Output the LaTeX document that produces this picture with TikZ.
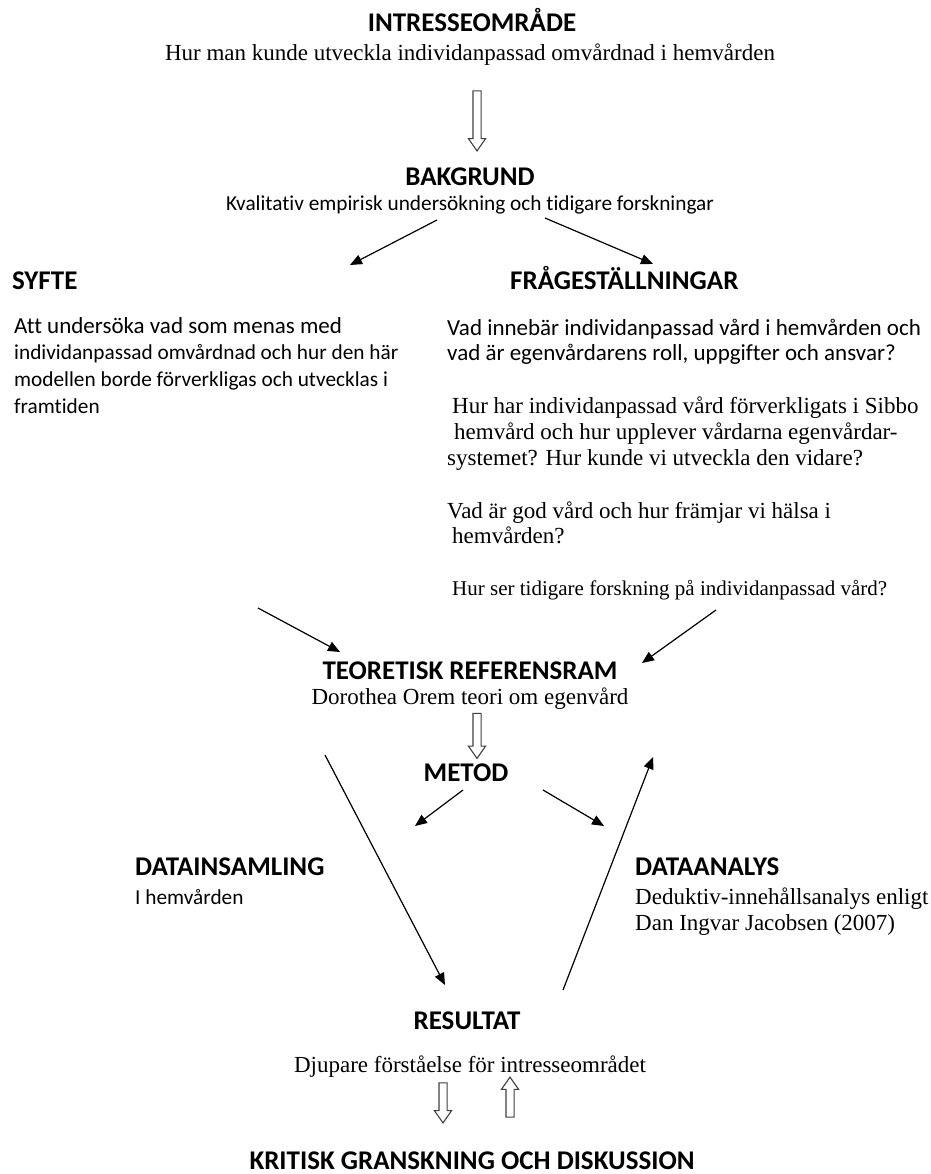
\documentclass[tikz,border=0pt]{standalone}
\usepackage{fontspec}
\setmainfont{Liberation Serif}
\newfontfamily\calfont[Ligatures={NoCommon,NoContextual},RawFeature={-dlig;-clig}]{Carlito}
\usetikzlibrary{shapes.arrows,arrows.meta}
\tikzset{
  head/.style={font=\calfont\bfseries\fontsize{27}{30}\selectfont, inner sep=0pt},
  sansl/.style={font=\calfont\fontsize{23}{27}\selectfont, inner sep=0pt},
  sans/.style={font=\calfont\fontsize{21.3}{27}\selectfont, inner sep=0pt},
  serif/.style={font=\fontsize{23}{27}\selectfont, inner sep=0pt},
  serifsm/.style={font=\fontsize{21}{27}\selectfont, inner sep=0pt},
  hollow/.style={single arrow, draw=black!75, line width=1.1pt, fill=white,
    inner xsep=0pt, inner ysep=3.5pt, minimum width=17pt,
    single arrow head extend=4.5pt, single arrow head indent=0pt,
    single arrow tip angle=70},
  conn/.style={-{Triangle[length=12pt,width=10pt]}, line width=1.2pt, black}
}
\begin{document}
\begin{tikzpicture}[x=1pt,y=-1pt]
\useasboundingbox (0,0) rectangle (930,1174);
% top
\node[head, anchor=base] (intr) at (472,32) {INTRESSEOMRÅDE};
\node[serif, anchor=base] (intrsub) at (470,61) {Hur man kunde utveckla individanpassad omvårdnad i hemvården};
\node[hollow, rotate=-90, minimum height=60pt] (h1) at (477,118) {};
\node[head, anchor=base] (bak) at (470,186) {BAKGRUND};
\node[sans, anchor=base] (baksub) at (470,211) {Kvalitativ empirisk undersökning och tidigare forskningar};
\coordinate (b1s) at (437,220);
\coordinate (b1e) at (350,265);
\coordinate (b2s) at (545,218);
\coordinate (b2e) at (653,264);
\draw[conn] (b1s) -- (b1e);
\draw[conn] (b2s) -- (b2e);
\node[head, anchor=base west] (syfte) at (12,289) {SYFTE};
\node[head, anchor=base west] (frag) at (510,289) {FRÅGESTÄLLNINGAR};
% syfte text
\node[sansl, anchor=base west] (s1) at (14,333) {Att undersöka vad som menas med};
\node[sans, anchor=base west] (s2) at (14,359) {individanpassad omvårdnad och hur den här};
\node[sans, anchor=base west] (s3) at (14,386) {modellen borde förverkligas och utvecklas i};
\node[sans, anchor=base west] (s4) at (14,413) {framtiden};
% fragestallningar
\node[sansl, anchor=base west] (f1) at (447,335) {Vad innebär individanpassad vård i hemvården och};
\node[sansl, anchor=base west] (f2) at (447,360) {vad är egenvårdarens roll, uppgifter och ansvar?};
\node[serif, anchor=base west] (f3) at (452,413) {Hur har individanpassad vård förverkligats i Sibbo};
\node[serif, anchor=base west] (f4) at (454,439) {hemvård och hur upplever vårdarna egenvårdar-};
\node[serif, anchor=base west] (f5) at (447,465) {systemet? Hur kunde vi utveckla den vidare?};
\node[serif, anchor=base west] (f6) at (447,518) {Vad är god vård och hur främjar vi hälsa i};
\node[serif, anchor=base west] (f7) at (452,543) {hemvården?};
\node[serifsm, anchor=base west] (f8) at (452,595) {Hur ser tidigare forskning på individanpassad vård?};
% arrows into teoretisk
\coordinate (t1s) at (258,608);
\coordinate (t1e) at (340,652);
\coordinate (t2s) at (716,610);
\coordinate (t2e) at (642,663);
\draw[conn] (t1s) -- (t1e);
\draw[conn] (t2s) -- (t2e);
\node[head, anchor=base] (teo) at (470,679) {TEORETISK REFERENSRAM};
\node[serif, anchor=base] (teosub) at (470,704) {Dorothea Orem teori om egenvård};
\node[hollow, rotate=-90, minimum height=45pt] (h2) at (477,733) {};
\node[head, anchor=base] (metod) at (466,781) {METOD};
\coordinate (m1s) at (463,790);
\coordinate (m1e) at (415,826);
\coordinate (m2s) at (543,790);
\coordinate (m2e) at (604,826);
\draw[conn] (m1s) -- (m1e);
\draw[conn] (m2s) -- (m2e);
\coordinate (l1s) at (325,755);
\coordinate (l1e) at (445,985);
\coordinate (l2s) at (563,990);
\coordinate (l2e) at (653,757);
\draw[conn] (l1s) -- (l1e);
\draw[conn] (l2s) -- (l2e);
\node[head, anchor=base west] (dins) at (135,875) {DATAINSAMLING};
\node[sans, anchor=base west] (dinssub) at (135,904) {I hemvården};
\node[head, anchor=base west] (dana) at (635,875) {DATAANALYS};
\node[serif, anchor=base west] (dana1) at (635,904) {Deduktiv-innehållsanalys enligt};
\node[serif, anchor=base west] (dana2) at (635,930) {Dan Ingvar Jacobsen (2007)};
\node[head, anchor=base] (res) at (467,1029) {RESULTAT};
\node[serif, anchor=base] (ressub) at (470,1072) {Djupare förståelse för intresseområdet};
\node[hollow, rotate=-90, minimum height=40pt] (h3) at (443,1100) {};
\node[hollow, rotate=90, minimum height=40pt] (h4) at (510,1100) {};
\node[head, anchor=base] (krit) at (472,1169) {KRITISK GRANSKNING OCH DISKUSSION};
\end{tikzpicture}
\end{document}
